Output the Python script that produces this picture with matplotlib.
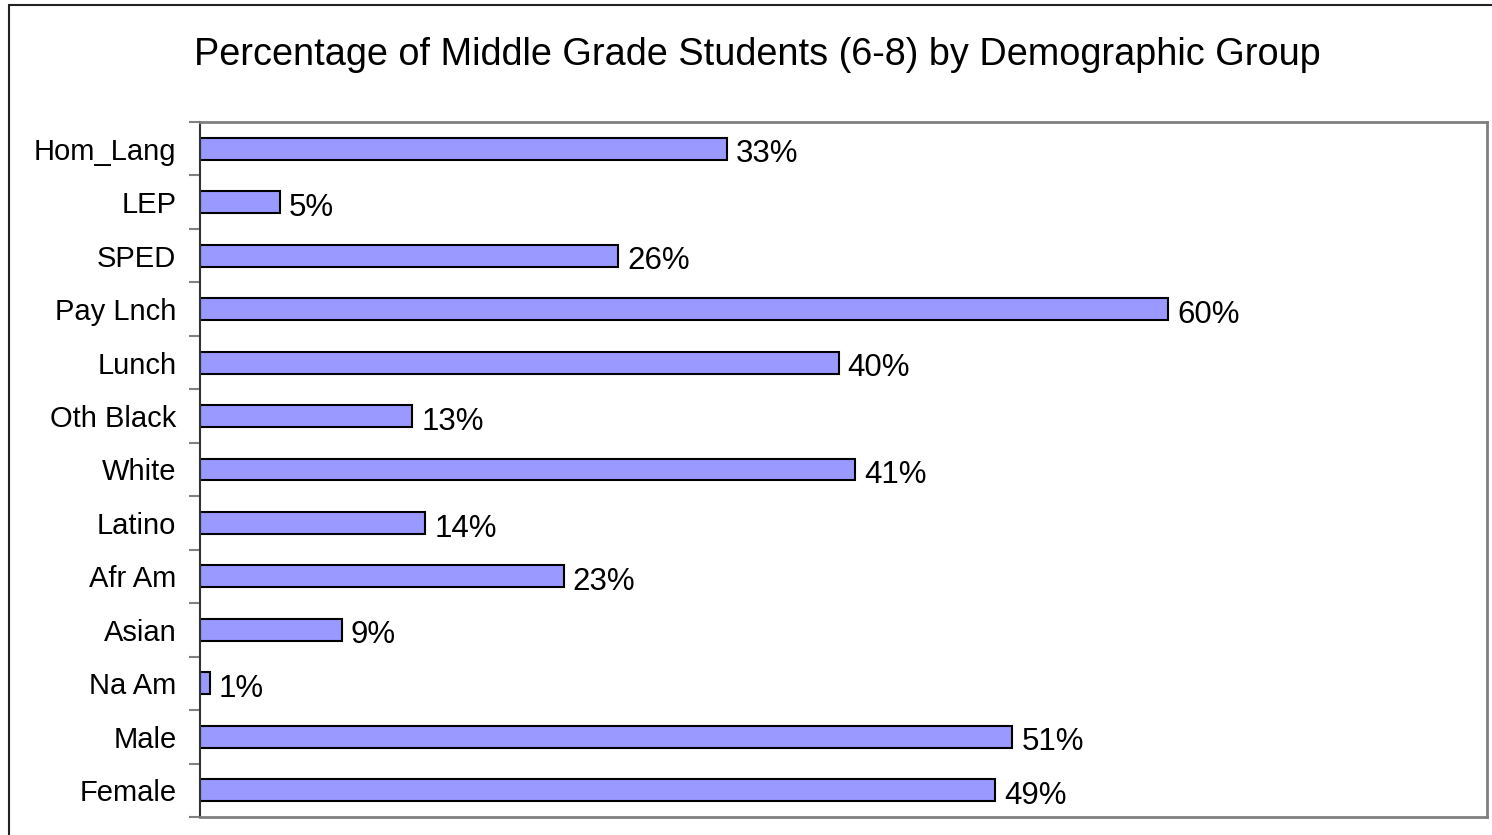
import matplotlib
matplotlib.use("Agg")
import matplotlib.pyplot as plt
from matplotlib.patches import Rectangle
import numpy as np

categories = ["Hom_Lang", "LEP", "SPED", "Pay Lnch", "Lunch", "Oth Black", "White",
              "Latino", "Afr Am", "Asian", "Na Am", "Male", "Female"]
values = [32.75, 4.97, 26.0, 60.2, 39.7, 13.2, 40.7, 14.0, 22.6, 8.8, 0.6, 50.5, 49.4]
labels = ["33%", "5%", "26%", "60%", "40%", "13%", "41%", "14%", "23%", "9%", "1%", "51%", "49%"]
title = "Percentage of Middle Grade Students (6-8) by Demographic Group"

plt.rcParams['font.family'] = ['Liberation Sans', 'DejaVu Sans']

W, H = 1492, 835
fig = plt.figure(figsize=(W / 100, H / 100), dpi=100)
fig.patch.set_facecolor("white")

ax = fig.add_axes([200 / W, (H - 817) / H, (1487 - 200) / W, (817 - 122) / H])
y = np.arange(len(categories))
ax.barh(y, values, height=0.41, color="#9999FF", edgecolor="black", linewidth=1.5)
ax.set_xlim(0, 80)
ax.set_ylim(len(categories) - 0.5, -0.5)

for yi, v, lab in zip(y, values, labels):
    ax.annotate(lab, (v, yi), xytext=(6.5, -4), textcoords="offset points",
                ha="left", va="center", fontsize=22.5, color="black")

ax.set_yticks(y)
ax.set_yticklabels(categories, fontsize=21)
ax.tick_params(axis="y", which="major", length=0, pad=17)
ax.set_yticks(np.arange(len(categories) + 1) - 0.5, minor=True)
ax.tick_params(axis="y", which="minor", length=8, width=1.5, color="#808080")
ax.set_xticks([])

for side in ["top", "right", "bottom"]:
    ax.spines[side].set_color("#808080")
    ax.spines[side].set_linewidth(2)
ax.spines["left"].set_color("#333333")
ax.spines["left"].set_linewidth(1.5)

fig.text(757 / W, 1 - 55 / H, title, ha="center", va="center", fontsize=27.3)

# outer frame
fig.patches.append(Rectangle((9 / W, -0.1), 1.2, 1 - 5 / H + 0.1, transform=fig.transFigure,
                             fill=False, edgecolor="#222222", linewidth=1.5))

fig.savefig("out.png", dpi=100)
